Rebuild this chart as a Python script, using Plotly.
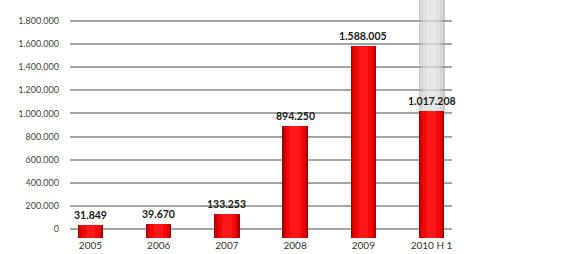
import plotly.graph_objects as go

categories = ["2005", "2006", "2007", "2008", "2009", "2010 H 1"]
values = [31849, 39670, 133253, 894250, 1588005, 1017208]
target_value = 2000000
target_label = "2 Mio."
y_ticks = [0, 200000, 400000, 600000, 800000, 1000000, 1200000, 1400000, 1600000, 1800000]


def de_fmt(v):
    return f"{v:,}".replace(",", ".")


y_ticktext = [de_fmt(v) for v in y_ticks]
value_labels = [de_fmt(v) for v in values]

base = -76000
idx = list(range(len(categories)))

fig = go.Figure()

# gray target cylinder (2010)
last = len(categories) - 1
for w, col in [(0.38, "rgba(150,150,150,0.5)"), (0.33, "rgba(255,255,255,0.25)"),
               (0.24, "rgba(255,255,255,0.25)"), (0.12, "rgba(255,255,255,0.2)")]:
    fig.add_trace(go.Bar(
        x=[idx[last]], y=[target_value - values[last]], base=[values[last]],
        width=w, marker=dict(color=col, line=dict(width=0)),
        hoverinfo="skip", showlegend=False))

# red cylinders with shading layers
for w, col in [(0.37, "#9a0000"), (0.34, "#c80000"), (0.30, "#e40000"), (0.24, "#f40808"), (0.14, "#ff1818")]:
    fig.add_trace(go.Bar(
        x=idx, y=[v - base for v in values], base=[base] * len(values),
        width=w, marker=dict(color=col, line=dict(width=0)),
        hoverinfo="skip", showlegend=False))

for i, v, t in zip(idx, values, value_labels):
    fig.add_annotation(x=i, y=max(v, 0), text="<b>" + t + "</b>", showarrow=False,
                       yanchor="bottom", yshift=2,
                       font=dict(family="Lato", size=10.5, color="#1a1a1a"))

fig.add_annotation(x=idx[last], y=target_value, text="<b>" + target_label + "</b>", showarrow=False,
                   yanchor="top", yshift=1,
                   font=dict(family="Lato", size=9, color="#ffffff"))

fig.update_layout(
    width=574, height=254,
    margin=dict(l=70, r=122, t=0, b=16),
    paper_bgcolor="white", plot_bgcolor="white",
    barmode="overlay", bargap=0,
    xaxis=dict(
        tickmode="array", tickvals=idx, ticktext=categories,
        range=[-0.3, 5.3], showgrid=False, zeroline=False, showline=False,
        ticks="", tickfont=dict(family="Lato", size=10, color="#333333"),
    ),
    yaxis=dict(
        tickmode="array", tickvals=y_ticks, ticktext=y_ticktext,
        range=[-77885, 1981730], showgrid=True, gridcolor="#a5a5a5", gridwidth=1.5,
        zeroline=False, showline=False, ticks="", ticklabelstandoff=10,
        tickfont=dict(family="Lato", size=9, color="#444444"),
    ),
)

fig.write_html("out.html")
